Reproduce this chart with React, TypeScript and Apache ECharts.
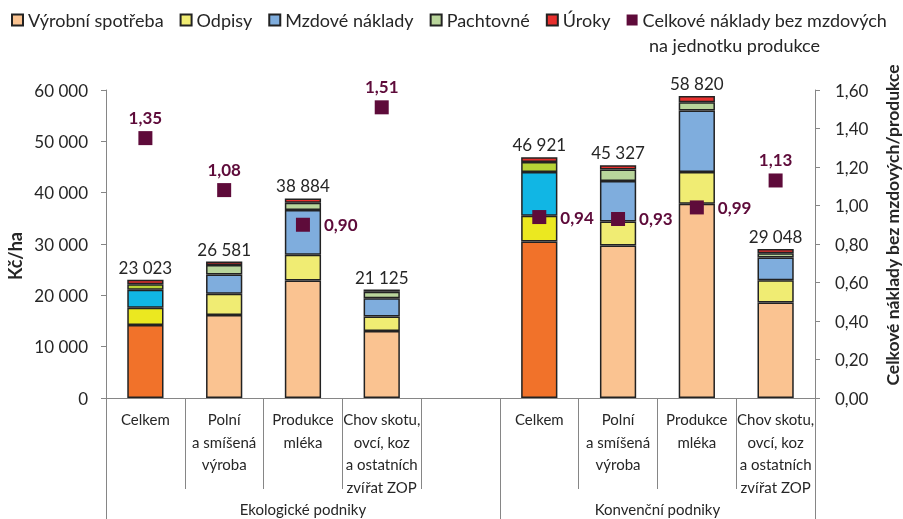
import React, { useEffect, useRef } from 'react';
import * as echarts from 'echarts';

const categories = [
  'Celkem',
  'Polní\na smíšená\nvýroba',
  'Produkce\nmléka',
  'Chov skotu,\novcí, koz\na ostatních\nzvířat ZOP',
  '',
  'Celkem',
  'Polní\na smíšená\nvýroba',
  'Produkce\nmléka',
  'Chov skotu,\novcí, koz\na ostatních\nzvířat ZOP',
];
const groupLabels = ['Ekologické podniky', 'Konvenční podniky'];

const vyrobniSpotreba = [14200, 16180, 22900, 13030, null, 30500, 29730, 37860, 18580];
const odpisy = [3400, 4140, 5030, 2840, null, 4980, 4650, 6190, 4380];
const mzdoveNaklady = [3500, 3740, 8710, 3540, null, 8570, 7870, 11950, 4390];
const pachtovne = [1080, 1870, 1410, 1300, null, 1940, 2260, 1600, 830];
const uroky = [843, 651, 834, 415, null, 931, 817, 1220, 868];
const totals = [23023, 26581, 38884, 21125, null, 46921, 45327, 58820, 29048];
const unitCost = [1.35, 1.08, 0.9, 1.51, null, 0.94, 0.93, 0.99, 1.13];

const leftTicks = [0, 10000, 20000, 30000, 40000, 50000, 60000];
const rightTicks = [0, 0.2, 0.4, 0.6, 0.8, 1.0, 1.2, 1.4, 1.6];

const FONT = 'Lato, "Open Sans", sans-serif';
const TXT = '#262626';
const AXIS = '#868686';
const BORDER = '#222222';
const MAROON = '#5E0B3A';

const celkemIdx = [0, 5];
const scatterLabelPos = ['top', 'top', 'right', 'top', 'top', 'right', 'right', 'right', 'top'];

const fmtThousands = (n: number) => String(Math.round(n)).replace(/\B(?=(\d{3})+(?!\d))/g, ' ');

const barSeries = (
  name: string,
  values: (number | null)[],
  color: string,
  celkemColor: string,
  extra: any = {}
) => ({
  name,
  type: 'bar',
  stack: 'total',
  barWidth: '46%',
  itemStyle: { color, borderColor: BORDER, borderWidth: 1.5 },
  data: values.map((v, i) =>
    v == null
      ? '-'
      : celkemIdx.includes(i)
      ? { value: v, itemStyle: { color: celkemColor } }
      : v
  ),
  ...extra,
});

const SCATTER_NAME = 'Celkové náklady bez mzdových na jednotku produkce';

export default function App() {
  const ref = useRef<HTMLDivElement>(null);
  useEffect(() => {
    const chart = echarts.init(ref.current!, null, { renderer: 'svg' });
    const option: any = {
      animation: false,
      textStyle: { fontFamily: FONT, color: TXT },
      grid: { left: 106, right: 88, top: 90, bottom: 121, containLabel: false },
      legend: {
        left: 11,
        top: 11,
        padding: 0,
        icon: 'rect',
        itemWidth: 11,
        itemHeight: 11,
        itemGap: 16,
        textStyle: { fontSize: 18, color: TXT, fontFamily: FONT },
        data: ['Výrobní spotřeba', 'Odpisy', 'Mzdové náklady', 'Pachtovné', 'Úroky', SCATTER_NAME],
        formatter: (n: string) => (n === SCATTER_NAME ? 'Celkové náklady bez mzdových' : n),
      },
      graphic: [
        {
          type: 'text',
          left: 649,
          top: 36,
          style: { text: 'na jednotku produkce', fontSize: 18, fontFamily: FONT, fill: TXT },
        },
        {
          type: 'text',
          x: 15,
          y: 256,
          rotation: Math.PI / 2,
          style: {
            text: 'Kč/ha',
            fontSize: 18,
            fontWeight: 'bold',
            fontFamily: FONT,
            fill: TXT,
            align: 'center',
            verticalAlign: 'middle',
          },
        },
        {
          type: 'text',
          x: 892,
          y: 225,
          rotation: Math.PI / 2,
          style: {
            text: 'Celkové náklady bez mzdových/produkce',
            fontSize: 17.5,
            fontWeight: 'bold',
            fontFamily: FONT,
            fill: TXT,
            align: 'center',
            verticalAlign: 'middle',
          },
        },
      ],
      xAxis: [
        {
          type: 'category',
          data: categories,
          axisLine: { lineStyle: { color: AXIS, width: 1 } },
          axisTick: { show: true, interval: 0, length: 91, lineStyle: { color: AXIS } },
          axisLabel: {
            interval: 0,
            fontSize: 15,
            lineHeight: 22.5,
            color: TXT,
            fontFamily: FONT,
            margin: 10,
            verticalAlign: 'top',
          },
        },
        {
          type: 'value',
          min: 0,
          max: 9,
          position: 'bottom',
          axisLine: { show: false },
          splitLine: { show: false },
          axisTick: { show: true, customValues: [0, 5, 9], length: 121, lineStyle: { color: AXIS } },
          axisLabel: {
            customValues: [2.5, 7],
            formatter: (v: number) => (v < 5 ? groupLabels[0] : groupLabels[1]),
            margin: 103,
            fontSize: 15,
            color: TXT,
            fontFamily: FONT,
          },
        },
      ],
      yAxis: [
        {
          type: 'value',
          min: leftTicks[0],
          max: leftTicks[leftTicks.length - 1],
          interval: leftTicks[1] - leftTicks[0],
          axisLine: { show: true, lineStyle: { color: AXIS } },
          axisTick: { show: true, length: 5, lineStyle: { color: AXIS } },
          splitLine: { show: false },
          axisLabel: {
            fontSize: 17,
            color: TXT,
            fontFamily: FONT,
            margin: 18,
            formatter: (v: number) => fmtThousands(v),
          },
        },
        {
          type: 'value',
          position: 'right',
          min: rightTicks[0],
          max: rightTicks[rightTicks.length - 1],
          interval: 0.2,
          axisLine: { show: true, lineStyle: { color: AXIS } },
          axisTick: { show: true, length: 5, lineStyle: { color: AXIS } },
          splitLine: { show: false },
          axisLabel: {
            fontSize: 17,
            color: TXT,
            fontFamily: FONT,
            margin: 20,
            formatter: (v: number) => v.toFixed(2).replace('.', ','),
          },
        },
      ],
      series: [
        barSeries('Výrobní spotřeba', vyrobniSpotreba, '#FAC391', '#F1722A'),
        barSeries('Odpisy', odpisy, '#F0EC73', '#EBE820'),
        barSeries('Mzdové náklady', mzdoveNaklady, '#7FADDD', '#11B6E4'),
        barSeries('Pachtovné', pachtovne, '#B9D59B', '#B7D336'),
        barSeries('Úroky', uroky, '#E8302E', '#E2302C', {
          label: {
            show: true,
            position: 'top',
            distance: 4,
            fontSize: 17,
            color: TXT,
            fontFamily: FONT,
            formatter: (p: any) => (totals[p.dataIndex] == null ? '' : fmtThousands(totals[p.dataIndex] as number)),
          },
        }),
        {
          name: SCATTER_NAME,
          type: 'scatter',
          yAxisIndex: 1,
          symbol: 'rect',
          symbolSize: 14,
          itemStyle: { color: MAROON, opacity: 1 },
          data: unitCost.map((v, i) =>
            v == null
              ? '-'
              : {
                  value: v,
                  label: {
                    show: true,
                    position: scatterLabelPos[i],
                    distance: scatterLabelPos[i] === 'top' ? 5 : 14,
                    fontSize: 17,
                    fontWeight: 'bold',
                    color: MAROON,
                    fontFamily: FONT,
                    formatter: () => v.toFixed(2).replace('.', ','),
                  },
                }
          ),
          z: 5,
        },
      ],
    };
    chart.setOption(option);
    return () => chart.dispose();
  }, []);
  return <div ref={ref} style={{ position: 'fixed', left: 0, top: 0, width: 903, height: 519 }} />;
}
